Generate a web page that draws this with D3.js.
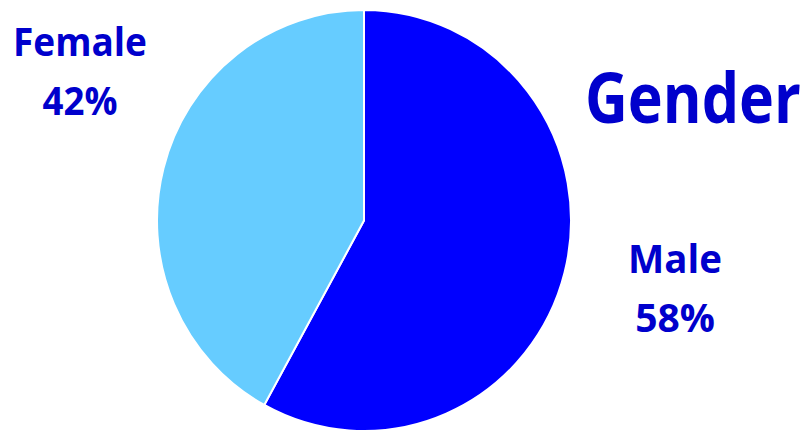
<!DOCTYPE html>
<html lang="en">
<head>
    <script src="https://d3js.org/d3.v7.min.js"></script>
    <style>
        body { margin: 0; background: white; }
        text { font-family: "Open Sans", sans-serif; font-weight: bold; fill: #0000CC; }
    </style>
</head>
<body>
    <svg id="pie" width="811" height="432"></svg>
    <script>
        // data
        const categories = ["Male", "Female"];
        const shares = [58, 42];
        const sliceColors = ["#0000FF", "#66CCFF"];
        const title = "Gender";

        const svg = d3.select("svg#pie");

        const cx = 364, cy = 220.5;
        const radius = 207;

        const pie = d3.pie().sort(null).value(d => d.value);
        const arc = d3.arc().innerRadius(0).outerRadius(radius);

        const rows = categories.map((c, i) => ({ name: c, value: shares[i], color: sliceColors[i] }));

        const g = svg.append("g")
            .attr("transform", `translate(${cx},${cy}) scale(1,1.017)`);

        g.selectAll("path.slice")
            .data(pie(rows))
            .join("path")
            .attr("class", "slice")
            .attr("d", arc)
            .attr("fill", d => d.data.color)
            .attr("stroke", "white")
            .attr("stroke-width", 2);

        // squeeze a text horizontally so it spans `w` pixels (fonts here are wider than the original)
        function fitText(str, x, y, size, w, anchor) {
            let t = svg.append("text")
                .attr("font-size", size)
                .attr("text-anchor", anchor)
                .text(str);
            let natural = t.node().getComputedTextLength();
            let sx = Math.min(1, w / natural);
            t.attr("transform", `translate(${x},${y}) scale(${sx},1)`);
            return t;
        }

        // labels, placed outside the pie
        const labelPos = {
            Male: { x: 675, y: 273, w1: 94, w2: 82 },
            Female: { x: 80, y: 56, w1: 134, w2: 75 }
        };

        rows.forEach(d => {
            let p = labelPos[d.name];
            fitText(d.name, p.x, p.y, 39, p.w1, "middle");
            fitText(d.value + "%", p.x, p.y + 59, 39, p.w2, "middle");
        });

        fitText(title, 585, 123, 70, 216, "start");
    </script>
</body>
</html>
